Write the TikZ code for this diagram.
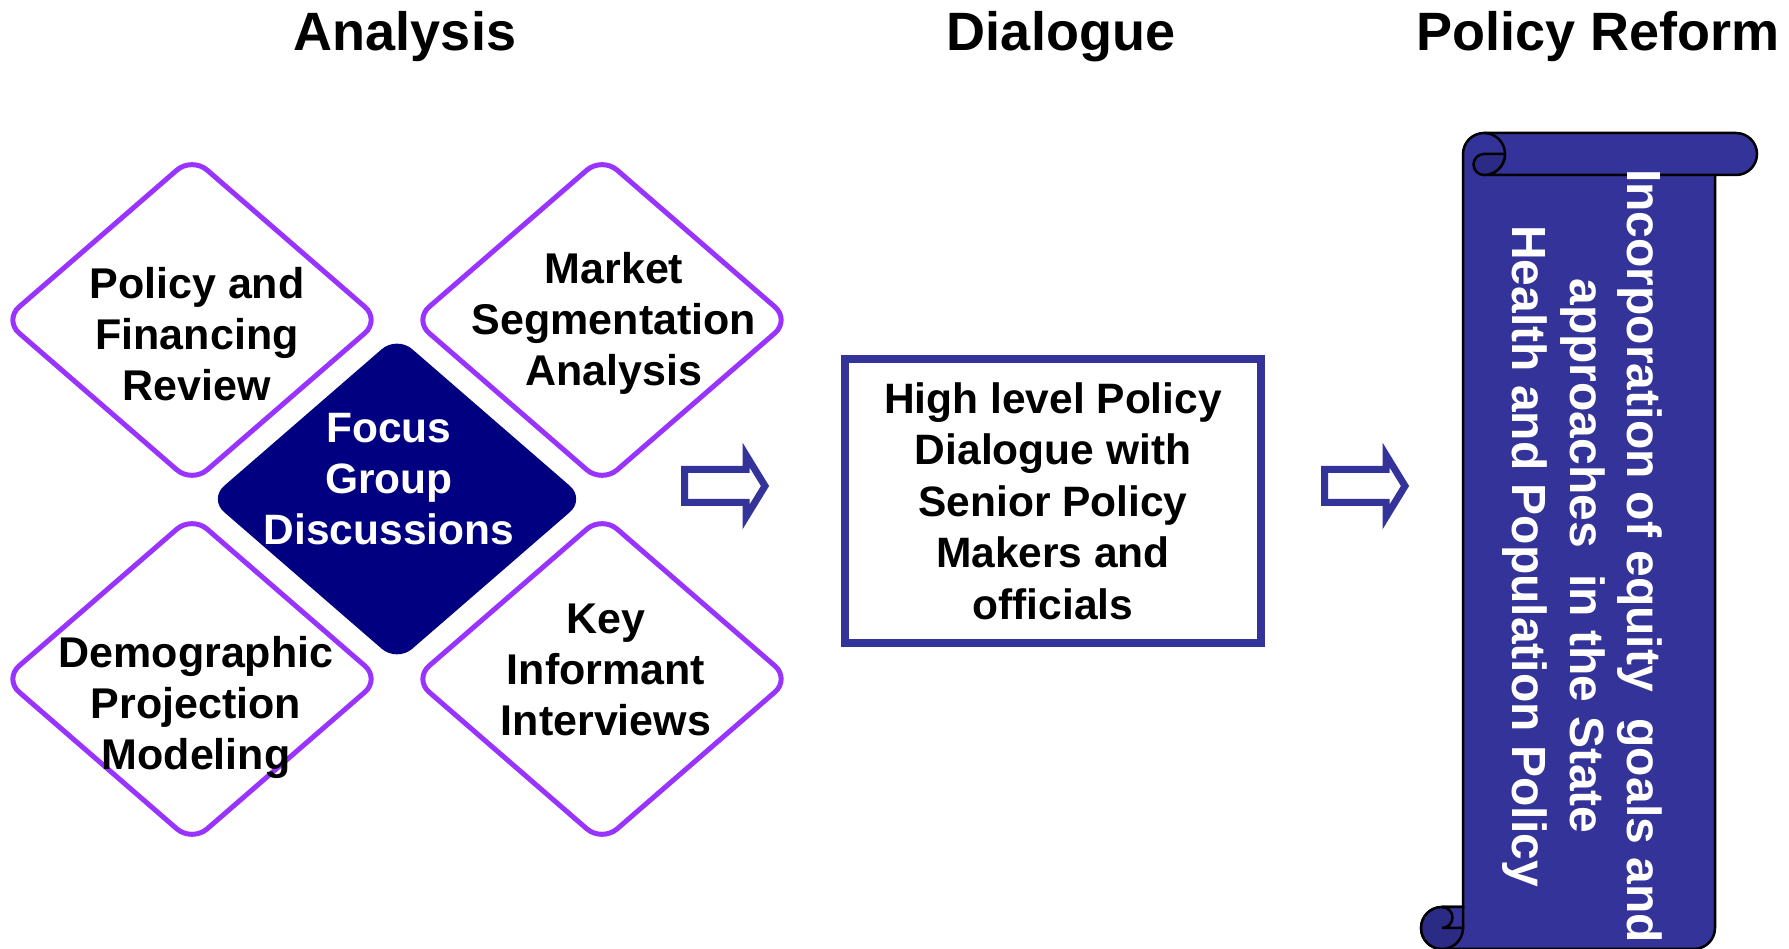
\documentclass[tikz,border=0pt]{standalone}
\usepackage{fontspec}
\setmainfont{Liberation Sans}
\usetikzlibrary{shapes.geometric}
\definecolor{lila}{HTML}{9933FF}
\definecolor{marine}{HTML}{000080}
\definecolor{blau}{HTML}{333399}
\definecolor{blaudunkel}{HTML}{2B2B85}

\begin{document}
\begin{tikzpicture}
		[
		x=1pt, y=1pt, line join=miter,
		%Stile fuer Rauten, Kasten und Rolle
		raute/.style={diamond, draw=lila, line width=5pt, rounded corners=20pt,
			minimum width=376pt, minimum height=326pt, inner sep=0pt, outer sep=0pt},
		kern/.style={raute, draw=none, fill=marine},
		rtext/.style={align=center, font=\bfseries\fontsize{43}{51}\selectfont},
		titel/.style={anchor=base, font=\bfseries\fontsize{54}{60}\selectfont},
		kasten/.style={draw=blau, line width=8pt, minimum width=416pt, minimum height=284pt,
			align=center, font=\bfseries\fontsize{42.5}{51.5}\selectfont},
		pfeil/.style={draw=blau, line width=7pt},
		rolle/.style={draw=black, line width=2.5pt, fill=blau},
		rolltext/.style={rotate=-90, align=center, text=white,
			font=\bfseries\fontsize{48}{57.5}\selectfont}
		]
		
		%Rahmen des Bildes
		\useasboundingbox (0,0) rectangle (1789,949);
		
		%Ueberschriften
		\node[titel] (tanalyse) at (405,898) {Analysis};
		\node[titel] (tdialog) at (1061,898) {Dialogue};
		\node[titel] (treform) at (1598,898) {Policy Reform};
		
		%Rauten
		\node[raute] (politik) at (192,629) {};
		\node[raute] (markt) at (602,629) {};
		\node[raute] (demo) at (192,270) {};
		\node[raute] (schluessel) at (602,270) {};
		\node[kern] (fokus) at (397,450) {};
		
		%Texte der Rauten
		\node[rtext] (tpolitik) at (197,615) {Policy and\\Financing\\Review};
		\node[rtext] (tmarkt) at (614,626) {Market\\Segmentation\\Analysis};
		\node[rtext] (tdemo) at (196,242) {Demographic\\Projection\\Modeling};
		\node[rtext] (tschluessel) at (606,279) {Key\\Informant\\Interviews};
		\node[rtext, text=white, font=\bfseries\fontsize{42.5}{51}\selectfont] (tfokus) at (389,469.5)
		{Focus\\Group\\Discussions};
		
		%Blockpfeile
		\foreach \x in {0,640}
		\draw[pfeil, shift={(\x,463)}] (684.5,-16.5) -- (746,-16.5) -- (746,-31) -- (765,0)
		-- (746,31) -- (746,16.5) -- (684.5,16.5) -- cycle;
		
		%Dialog
		\node[kasten] (dialog) at (1053,448)
		{High level Policy\\Dialogue with\\Senior Policy\\Makers and\\officials};
		
		%Schriftrolle
		\draw[rolle] (1463,795) -- (1463,42) -- (1442,42) arc[start angle=90, end angle=270, radius=21]
		-- (1694,0) arc[start angle=270, end angle=360, radius=21] -- (1715,774) -- (1736,774)
		arc[start angle=-90, end angle=90, radius=21] -- (1484,816)
		arc[start angle=90, end angle=180, radius=21] -- cycle;
		%oben eingerollt
		\draw[line width=2.5pt] (1484,816) arc[start angle=90, end angle=-90, radius=21] -- (1715,774);
		\draw[line width=2.5pt, fill=blaudunkel] (1505,795) -- (1484,795)
		arc[start angle=90, end angle=270, radius=10.5] arc[start angle=-90, end angle=0, radius=21];
		%unten eingerollt
		\draw[line width=2.5pt, fill=blaudunkel] (1442,21) circle[radius=21];
		\draw[rolle] (1463,42) -- (1442,42) arc[start angle=90, end angle=-90, radius=10.5]
		-- (1463,21) -- cycle;
		
		%Text der Rolle
		\node[rolltext] (treformtext) at (1582.5,393)
		{Incorporation of equity~~goals and\\approaches~~in the State\\Health and Population Policy};
	\end{tikzpicture}
\end{document}
